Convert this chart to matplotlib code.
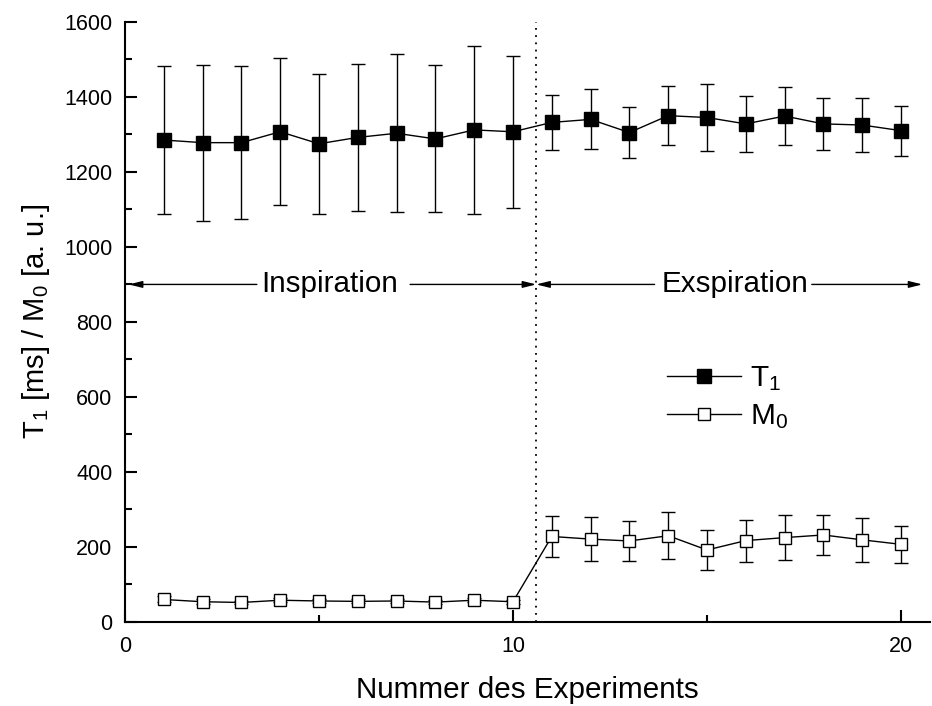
import matplotlib
matplotlib.use('Agg')
import matplotlib.pyplot as plt
from matplotlib.lines import Line2D
from matplotlib.ticker import MultipleLocator

plt.rcParams.update({
    'font.family': ['Liberation Sans', 'DejaVu Sans'],
    'mathtext.default': 'regular',
    'font.size': 15,
})

# data
experiment = list(range(1, 21))
t1 = [1285, 1278, 1278, 1307, 1275, 1292, 1303, 1288, 1312, 1307,
      1332, 1340, 1305, 1350, 1345, 1328, 1349, 1328, 1325, 1310]
t1_err = [197, 208, 204, 196, 187, 197, 211, 196, 223, 202,
          73, 80, 68, 79, 90, 74, 78, 69, 72, 67]
m0 = [60, 54, 52, 58, 56, 55, 56, 53, 58, 54,
      228, 221, 216, 230, 192, 217, 225, 232, 219, 207]
m0_err = [8, 6, 5, 6, 5, 5, 5, 5, 6, 5,
          54, 58, 53, 63, 53, 56, 60, 53, 58, 50]
split_x = 10.6
phase_y = 900

fig = plt.figure(figsize=(9.32, 7.06), dpi=100)
ax = fig.add_axes([0.134, 0.119, 0.864, 0.850])

ax.errorbar(experiment, t1, yerr=t1_err, fmt='s-', color='black', ms=9.5,
            mfc='black', mec='black', lw=1, elinewidth=1, capsize=5,
            capthick=1, zorder=3)
ax.errorbar(experiment, m0, yerr=m0_err, fmt='s-', color='black', ms=8,
            mfc='white', mec='black', mew=1, lw=1, elinewidth=1, capsize=5,
            capthick=1, zorder=3)

ax.axvline(split_x, color='black', lw=1.3, ls=(0, (1, 3)))

# phase arrows
arr = dict(arrowstyle='-|>,head_length=0.8,head_width=0.2', color='black',
           lw=1, mutation_scale=10, shrinkA=0, shrinkB=0)
ax.text(5.28, phase_y, 'Inspiration', ha='center', va='center', fontsize=21.3)
ax.annotate('', xy=(0.1, phase_y), xytext=(3.4, phase_y), arrowprops=arr)
ax.annotate('', xy=(split_x, phase_y), xytext=(7.35, phase_y), arrowprops=arr)
ax.text(15.71, phase_y, 'Exspiration', ha='center', va='center', fontsize=21.3)
ax.annotate('', xy=(split_x, phase_y), xytext=(13.65, phase_y), arrowprops=arr)
ax.annotate('', xy=(20.55, phase_y), xytext=(17.7, phase_y), arrowprops=arr)

ax.set_xlim(0, 20.75)
ax.set_ylim(0, 1600)
ax.xaxis.set_major_locator(MultipleLocator(10))
ax.xaxis.set_minor_locator(MultipleLocator(5))
ax.yaxis.set_major_locator(MultipleLocator(200))
ax.yaxis.set_minor_locator(MultipleLocator(100))
ax.tick_params(which='both', direction='in', width=1.5, labelsize=15.5)
ax.tick_params(which='major', length=8.5)
ax.tick_params(which='minor', length=5)
ax.tick_params(axis='x', pad=10)
ax.tick_params(axis='y', pad=9)
for side in ('top', 'right'):
    ax.spines[side].set_visible(False)
for side in ('left', 'bottom'):
    ax.spines[side].set_linewidth(1.5)

ax.set_xlabel('Nummer des Experiments', fontsize=21.3, labelpad=14)
ax.set_ylabel('T$_1$ [ms] / M$_0$ [a. u.]', fontsize=21, labelpad=9)

handles = [
    Line2D([], [], color='black', lw=1, marker='s', ms=9.5, mfc='black', mec='black'),
    Line2D([], [], color='black', lw=1, marker='s', ms=8, mfc='white', mec='black'),
]
ax.legend(handles, ['T$_1$', 'M$_0$'], loc='center left',
          bbox_to_anchor=(0.673, 0.374), frameon=False, fontsize=21.5,
          handlelength=2.5, labelspacing=0.31, handletextpad=0.3,
          borderpad=0, borderaxespad=0)

fig.savefig('out.png', dpi=100)
